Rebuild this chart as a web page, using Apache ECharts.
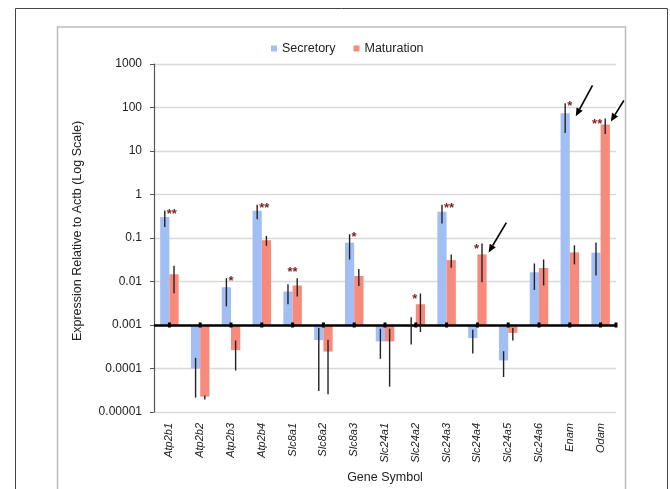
<!DOCTYPE html>
<html>
<head>
<meta charset="utf-8">
<script src="https://cdn.jsdelivr.net/npm/echarts@6/dist/echarts.min.js"></script>
<style>
html,body{margin:0;padding:0;background:#fff;}
#chart{width:670px;height:489px;}
</style>
</head>
<body>
<div id="chart"></div>
<script>
// ---- data ----
var genes = ['Atp2b1','Atp2b2','Atp2b3','Atp2b4','Slc8a1','Slc8a2','Slc8a3','Slc24a1','Slc24a2','Slc24a3','Slc24a4','Slc24a5','Slc24a6','Enam','Odam'];
var secretory = [0.305, 0.0001, 0.0074, 0.425, 0.0059, 0.00045, 0.078, 0.00042, 0.0009, 0.40, 0.0005, 0.000153, 0.0163, 74, 0.046];
var secLow    = [0.18, 0.0000214, 0.00267, 0.27, 0.003, 0.0000305, 0.032, 0.000167, 0.000355, 0.215, 0.00022, 0.0000637, 0.0064, 25.8, 0.0137];
var secHigh   = [0.43, 0.000176, 0.0119, 0.58, 0.0087, 0.00085, 0.122, 0.00082, 0.0015, 0.58, 0.00078, 0.00025, 0.026, 125, 0.079];
var maturation = [0.0147, 0.0000226, 0.000264, 0.089, 0.0081, 0.000245, 0.0134, 0.00042, 0.0030, 0.031, 0.042, 0.00066, 0.0204, 0.0467, 40.7];
var matLow     = [0.0054, 0.0000195, 0.00009, 0.066, 0.0045, 0.0000256, 0.0079, 0.0000383, 0.00069, 0.0208, 0.0096, 0.00044, 0.0081, 0.0248, 24.5];
var matHigh    = [0.023, 0.000024, 0.00044, 0.112, 0.0119, 0.00046, 0.0194, 0.00082, 0.0053, 0.042, 0.075, 0.00085, 0.032, 0.068, 55.9];
var secStars  = ['**','','*','**','','','*','','','**','','','','*',''];
var matStars  = ['','','','','','','','','*','','*','','','','**'];
var pairStars = ['','','','','**','','','','','','','','','',''];
var arrowTargets = [['Slc24a4','Maturation'],['Enam','Secretory'],['Odam','Maturation']];
var yTickLabels = ['0.00001','0.0001','0.001','0.01','0.1','1','10','100','1000'];
var BASE = 0.001; // bars are drawn from this value (axis crossing)

// ---- helpers ----
function T(v){ return Math.log10(v / BASE); }
var blue = '#a2bff5', red = '#f78a7b', starColor = '#7a1f1f';

function errSeries(low, high, side){
  return {
    type:'custom', z:5,
    data: low.map(function(l,i){ return [i, T(l), T(high[i])]; }),
    encode:{x:0, y:[1,2]},
    renderItem:function(params, api){
      var band = api.size([1,0])[0];
      var p1 = api.coord([api.value(0), api.value(1)]);
      var p2 = api.coord([api.value(0), api.value(2)]);
      var x = p1[0] + side*band*0.15;
      return {type:'line', shape:{x1:x,y1:p1[1],x2:x,y2:p2[1]}, style:{stroke:'#222', lineWidth:1.4}};
    }
  };
}
function starSeries(){
  var items = [];
  genes.forEach(function(g,i){
    if(secStars[i]) items.push([i, T(secHigh[i]), -1, secStars[i]]);
    if(matStars[i]) items.push([i, T(matHigh[i]), 1, matStars[i]]);
    if(pairStars[i]) items.push([i, Math.max(T(secHigh[i]),T(matHigh[i])), 0, pairStars[i]]);
  });
  return {
    type:'custom', z:6,
    data: items.map(function(it){ return [it[0], it[1], it[2]]; }),
    renderItem:function(params, api){
      var it = items[params.dataIndex];
      var band = api.size([1,0])[0];
      var p = api.coord([it[0], it[1]]);
      var side = it[2], x, align, y;
      if(side === -1){ x = p[0] - band*0.15 + 2; align='left'; y = p[1] - 3; }
      else if(side === 1){ x = p[0] + band*0.15 - 3; align='right'; y = p[1] - 1; }
      else { x = p[0]; align='center'; y = p[1] - 12; }
      return {type:'text', style:{text:it[3], x:x, y:y, align:align, verticalAlign:'top',
        fill:starColor, font:'bold 13px "Liberation Sans", Arial, sans-serif'}};
    }
  };
}
function arrowSeries(){
  var items = arrowTargets.map(function(a){
    var i = genes.indexOf(a[0]);
    var sec = a[1] === 'Secretory';
    return [i, T(sec ? secretory[i] : maturation[i]), sec ? -1 : 1];
  });
  var tipOff = [[2,-2],[6,3],[1,-3]];
  var tailOff = [[17.7,-29.7],[16.7,-30.7],[13,-21]];
  return {
    type:'custom', z:7,
    data: items,
    renderItem:function(params, api){
      var k = params.dataIndex;
      var band = api.size([1,0])[0];
      var p = api.coord([api.value(0), api.value(1)]);
      var right = p[0] + api.value(2)*band*0.15 + band*0.15;
      var tx = right + tipOff[k][0], ty = p[1] + tipOff[k][1];
      var sx = tx + tailOff[k][0], sy = ty + tailOff[k][1];
      var ang = Math.atan2(ty - sy, tx - sx);
      var L = 8, W = 3.5;
      var bx = tx - L*Math.cos(ang), by = ty - L*Math.sin(ang);
      var nx = -Math.sin(ang)*W, ny = Math.cos(ang)*W;
      return {type:'group', children:[
        {type:'line', shape:{x1:sx,y1:sy,x2:bx,y2:by}, style:{stroke:'#000', lineWidth:1.6}},
        {type:'polygon', shape:{points:[[tx,ty],[bx+nx,by+ny],[bx-nx,by-ny]]}, style:{fill:'#000'}}
      ]};
    }
  };
}
function tickSeries(){
  return {
    type:'custom', z:8,
    data: genes.map(function(g,i){ return [i, 0]; }),
    renderItem:function(params, api){
      var p = api.coord([api.value(0), 0]);
      var kids = [{type:'rect', shape:{x:p[0]-1.5,y:p[1]-2.5,width:3,height:5}, style:{fill:'#000'}}];
      if(params.dataIndex === genes.length-1){
        var ex = params.coordSys.x + params.coordSys.width;
        kids.push({type:'rect', shape:{x:ex-1.5,y:p[1]-2.5,width:3,height:5}, style:{fill:'#000'}});
      }
      return {type:'group', children:kids};
    }
  };
}

var chart = echarts.init(document.getElementById('chart'), null, {renderer:'canvas'});
var font = '"Liberation Sans", Arial, sans-serif';
chart.setOption({
  animation:false,
  backgroundColor:'#fff',
  textStyle:{fontFamily:font},
  graphic:[
    {type:'rect', shape:{x:15.5,y:8.5,width:652,height:500}, style:{fill:'none', stroke:'#444', lineWidth:1}, z:-10},
    {type:'rect', shape:{x:57.5,y:27,width:568,height:480}, style:{fill:'none', stroke:'#bcbcbc', lineWidth:1.5}, z:-10}
  ],
  legend:{
    left:266, top:37, itemWidth:6, itemHeight:6, itemGap:18, icon:'rect',
    textStyle:{fontSize:12.5, color:'#222', fontFamily:font},
    data:['Secretory','Maturation']
  },
  grid:{left:154, right:54, top:64, bottom:75},
  xAxis:{
    type:'category', data:genes,
    name:'Gene Symbol', nameLocation:'middle', nameGap:59,
    nameTextStyle:{fontSize:12.5, color:'#222'},
    axisLine:{show:false, onZero:false}, axisTick:{show:false},
    axisLabel:{rotate:90, fontSize:11, fontStyle:'italic', color:'#222', margin:11, interval:0, padding:[0,0,7,0]}
  },
  yAxis:{
    type:'value', min:-2, max:6, interval:1,
    name:'Expression Relative to Actb (Log Scale)', nameLocation:'middle', nameGap:70,
    nameTextStyle:{fontSize:12.5, color:'#222', padding:[0,0,0,14]},
    axisLine:{show:true, lineStyle:{color:'#555', width:1.2}},
    axisTick:{show:true, length:4, lineStyle:{color:'#555'}},
    axisLabel:{fontSize:12, color:'#222', margin:12, formatter:function(v){ return yTickLabels[v+2]; }},
    splitLine:{show:true, lineStyle:{color:'#d9d9d9', width:1.3}}
  },
  series:[
    {name:'Secretory', type:'bar', barWidth:'30%', barGap:'0%', itemStyle:{color:blue},
     data: secretory.map(T),
     markLine:{silent:true, symbol:'none', label:{show:false}, lineStyle:{color:'#000', width:2.5, type:'solid'}, data:[{yAxis:0}]}},
    {name:'Maturation', type:'bar', barWidth:'30%', barGap:'0%', itemStyle:{color:red},
     data: maturation.map(T)},
    errSeries(secLow, secHigh, -1),
    errSeries(matLow, matHigh, 1),
    tickSeries(),
    starSeries(),
    arrowSeries()
  ]
});
</script>
</body>
</html>
